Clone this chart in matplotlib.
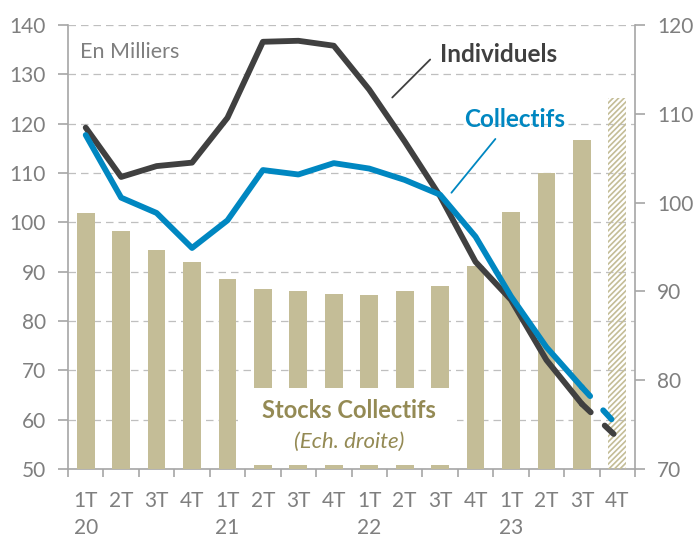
import matplotlib
matplotlib.use('Agg')
import matplotlib.pyplot as plt
from matplotlib.patches import Rectangle
import numpy as np

plt.rcParams['font.family'] = ['Lato', 'DejaVu Sans']
plt.rcParams['hatch.linewidth'] = 1.2

# data (en milliers), trimestres 1T20 -> 4T23
quarters = ['1T', '2T', '3T', '4T'] * 4
years = ['20', '21', '22', '23']
individuels = [119.2, 109.2, 111.4, 112.1, 121.2, 136.6, 136.8, 135.8,
               126.9, 116.4, 105.3, 92.0, 84.3, 72.1, 63.2, 56.4]
collectifs = [117.7, 105.0, 101.9, 94.8, 100.4, 110.6, 109.7, 112.0,
              110.9, 108.6, 105.6, 97.1, 85.0, 74.7, 66.6, 58.8]
stocks = [98.8, 96.8, 94.7, 93.3, 91.4, 90.3, 90.0, 89.7,
          89.6, 90.0, 90.6, 92.9, 98.9, 103.3, 107.0, 111.8]

labels = []
for i, q in enumerate(quarters):
    if i % 4 == 0:
        labels.append(q + '\n' + years[i // 4])
    else:
        labels.append(q)

DARK = '#404040'
BLUE = '#0087C1'
TAN = '#C4BD97'
OLIVE = '#948A54'
GRAY = '#7F7F7F'
SPINE = '#A6A6A6'
FS = 15

x = np.arange(len(quarters))

fig = plt.figure(figsize=(6.96, 5.40), dpi=100)
pos = [68 / 696, 71 / 540, 567 / 696, 444 / 540]

# background axes: left scale, grid
ax = fig.add_axes(pos)
ax.set_xlim(-0.5, len(quarters) - 0.5)
ax.set_ylim(50, 140)
ax.set_yticks(np.arange(50, 141, 10))
ax.yaxis.grid(True, color='#BFBFBF', linestyle=(0, (6, 4)), linewidth=0.9)
ax.set_axisbelow(True)
ax.spines['top'].set_visible(False)
ax.spines['right'].set_visible(False)
for s in ['left', 'bottom']:
    ax.spines[s].set_color(SPINE)
    ax.spines[s].set_linewidth(1.2)
ax.tick_params(axis='y', colors=SPINE, labelcolor=GRAY, labelsize=FS,
               length=7, width=1.2, pad=9)
ax.set_xticks(x)
ax.set_xticklabels(labels, linespacing=1.45)
ax.set_xticks(np.arange(-0.5, len(quarters)), minor=True)
ax.tick_params(axis='x', which='major', length=0, labelcolor=GRAY,
               labelsize=FS, pad=16)
ax.tick_params(axis='x', which='minor', length=6, width=1.2, colors=SPINE)

# right scale: stocks bars
ax2 = ax.twinx()
ax2.set_ylim(70, 120)
ax2.set_yticks(np.arange(70, 121, 10))
for s in ['left', 'top', 'bottom']:
    ax2.spines[s].set_visible(False)
ax2.spines['right'].set_color(SPINE)
ax2.spines['right'].set_linewidth(1.2)
ax2.tick_params(axis='y', colors=SPINE, labelcolor=GRAY, labelsize=FS,
                length=7, width=1.2, pad=9)
ax2.bar(x[:-1], np.array(stocks[:-1]) - 70, bottom=70, width=0.5,
        color=TAN, zorder=2)
ax2.bar(x[-1:], np.array(stocks[-1:]) - 70, bottom=70, width=0.5,
        facecolor='none', edgecolor=TAN, linewidth=0, hatch='//////', zorder=2)

# white label box over the bars
ax2.add_patch(Rectangle((4.29, 70.45), 6.2, 8.65, facecolor='white',
                        edgecolor='none', zorder=3))

# top axes: lines on left scale
ax3 = fig.add_axes(pos, sharex=ax, sharey=ax)
ax3.set_facecolor('none')
ax3.axis('off')

lw = 4.2
ax3.plot(x[:-1], individuels[:-1], color=DARK, lw=lw,
         solid_capstyle='round', solid_joinstyle='round', zorder=3)
ax3.plot(x[-2:], individuels[-2:], color=DARK, lw=lw,
         linestyle=(0, (2.1, 3.3)), dash_capstyle='round', zorder=3)
ax3.plot(x[:-1], collectifs[:-1], color=BLUE, lw=lw,
         solid_capstyle='round', solid_joinstyle='round', zorder=4)
ax3.plot(x[-2:], collectifs[-2:], color=BLUE, lw=lw,
         linestyle=(0, (2.1, 3.3)), dash_capstyle='round', zorder=4)

ax3.text(-0.16, 134.6, 'En Milliers', color=GRAY, fontsize=15.5,
         ha='left', va='center')
ax3.text(11.64, 134.0, 'Individuels', color=DARK, fontsize=17.5,
         fontweight='bold', ha='center', va='center')
ax3.text(12.1, 120.8, 'Collectifs', color=BLUE, fontsize=17.5,
         fontweight='bold', ha='center', va='center')
ax3.annotate('', xy=(8.65, 125.3), xytext=(9.72, 133.0),
             arrowprops=dict(arrowstyle='-', color=DARK, lw=1.3,
                             shrinkA=0, shrinkB=0))
ax3.annotate('', xy=(10.32, 106.0), xytext=(11.56, 116.9),
             arrowprops=dict(arrowstyle='-', color=BLUE, lw=1.3,
                             shrinkA=0, shrinkB=0))

ax3.text(7.44, 61.8, 'Stocks Collectifs', color=OLIVE, fontsize=17,
         fontweight='bold', ha='center', va='center', zorder=6)
ax3.text(7.44, 55.5, '(Ech. droite)', color=OLIVE, fontsize=16,
         fontstyle='italic', ha='center', va='center', zorder=6)

fig.savefig('out.png', dpi=100)
